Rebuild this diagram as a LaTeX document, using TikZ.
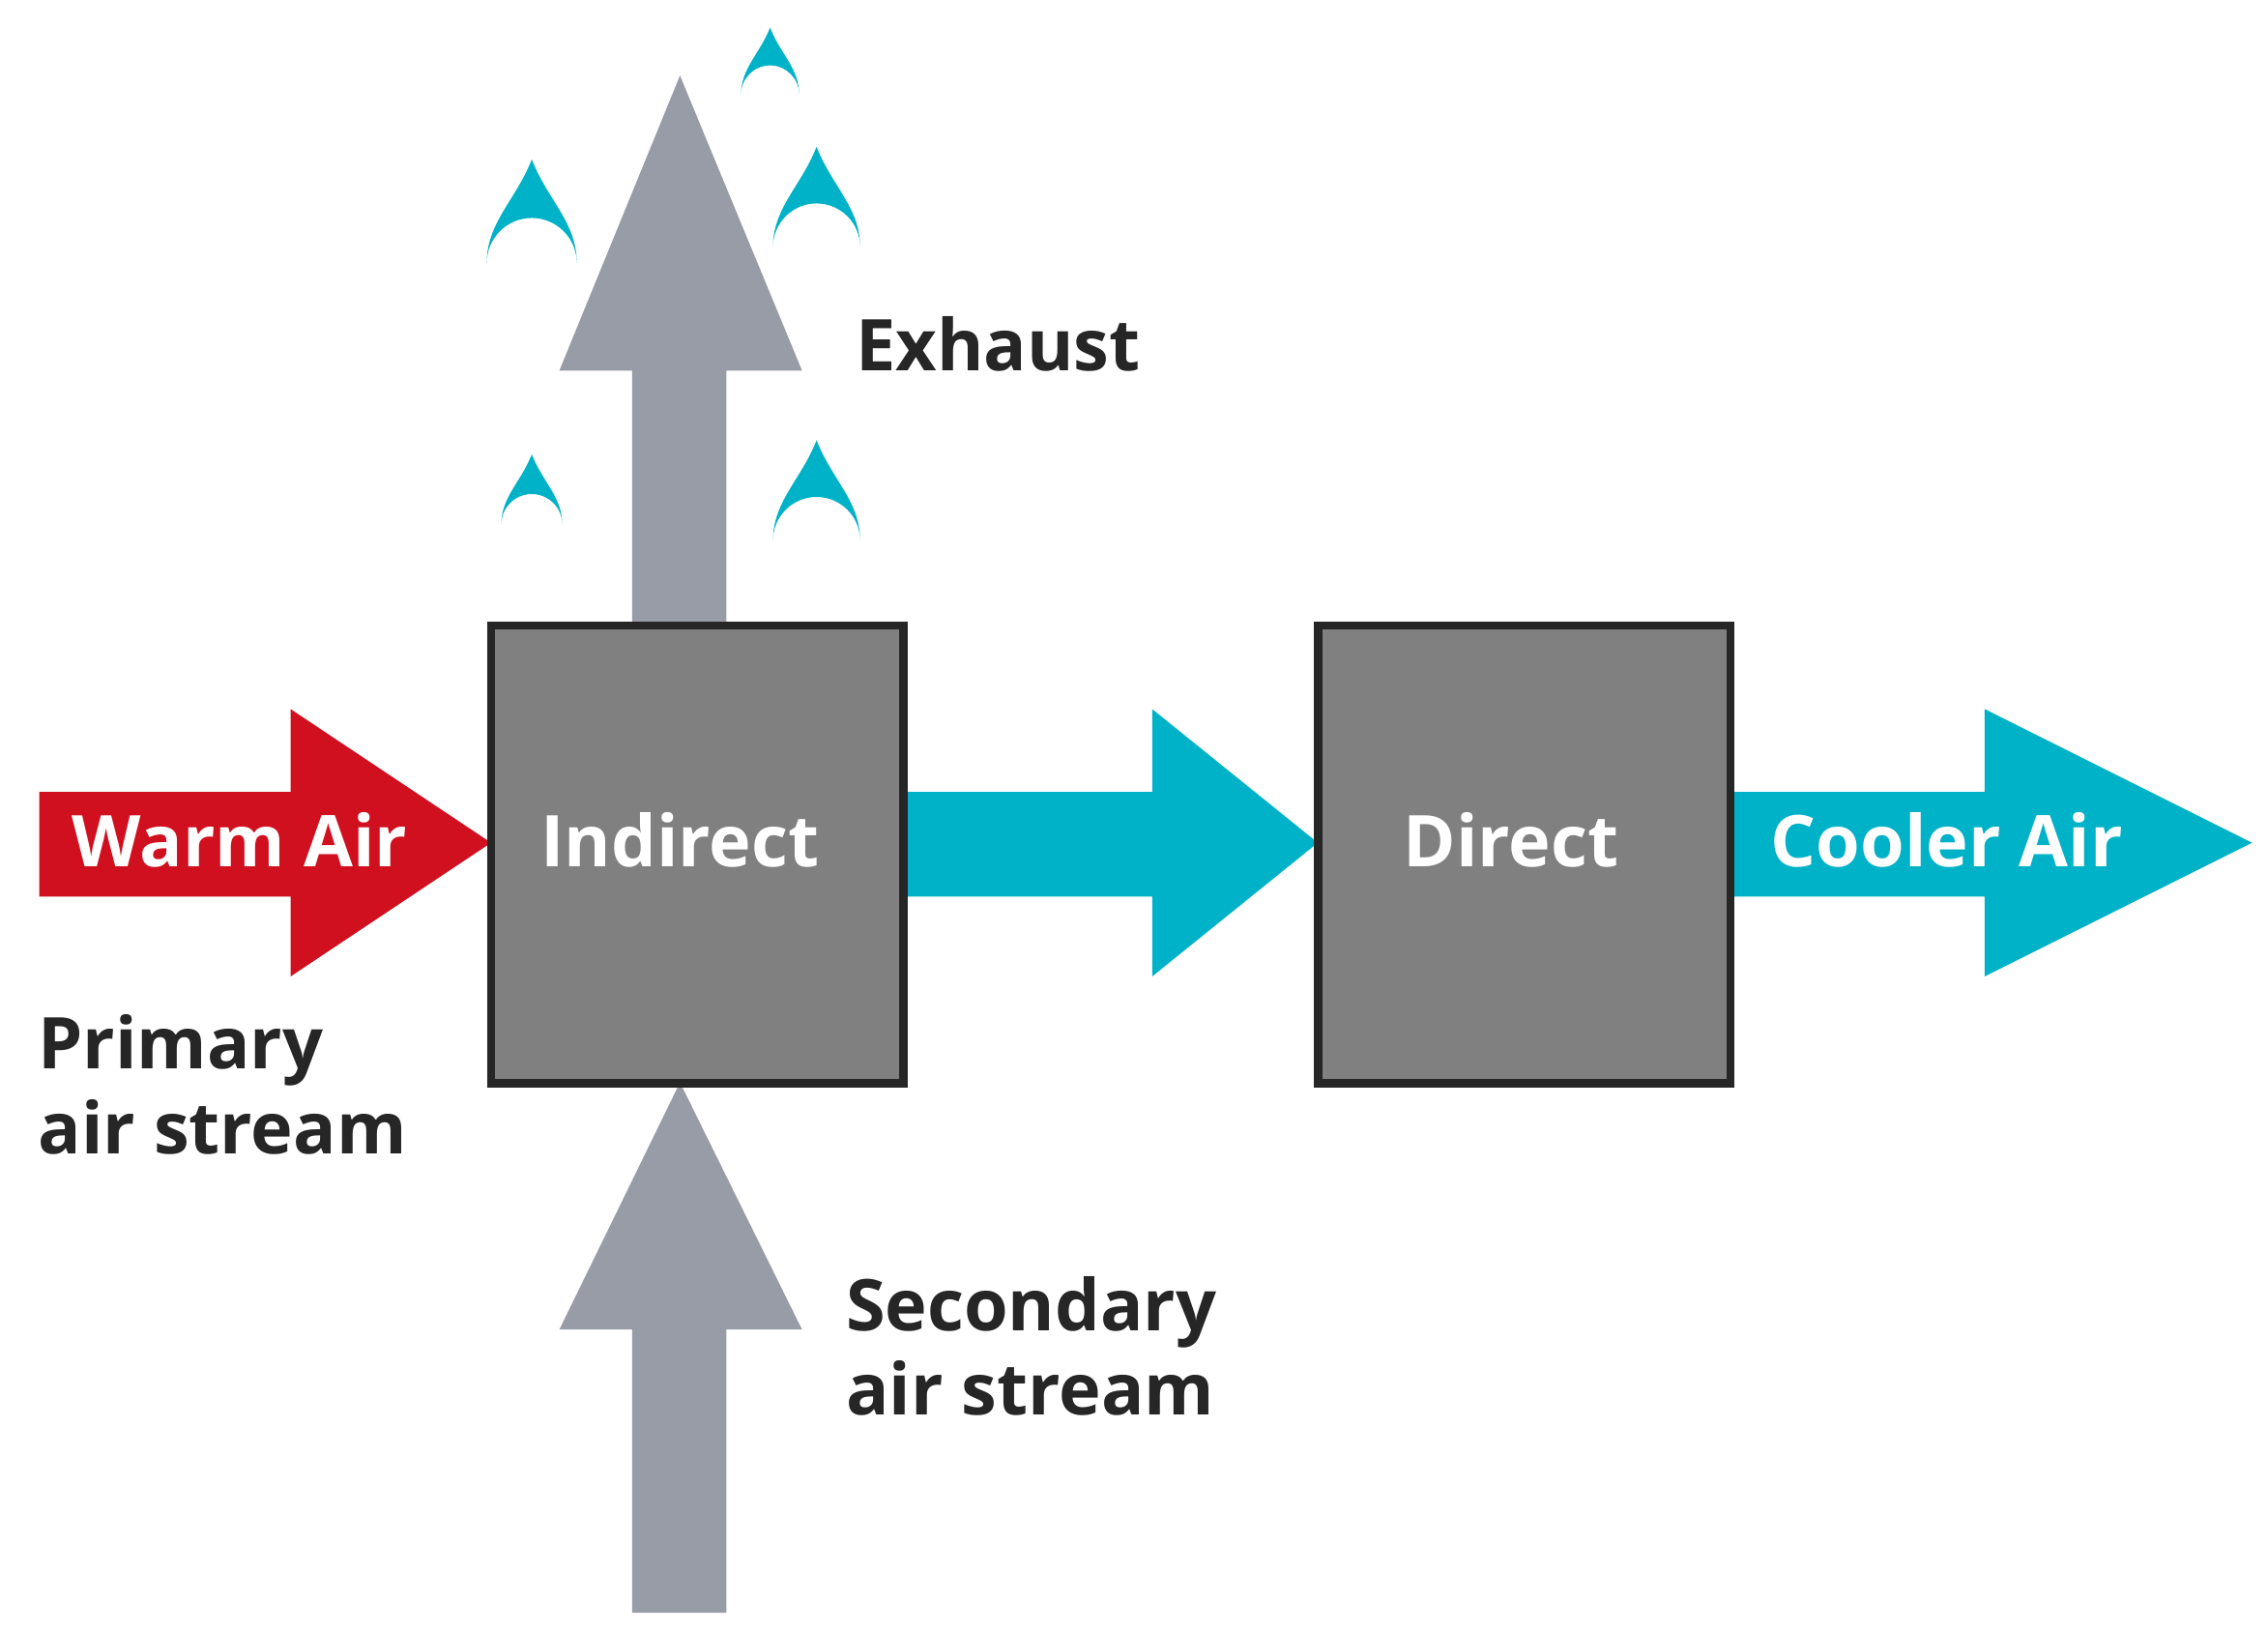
\documentclass[tikz,border=0pt]{standalone}
\usepackage{fontspec}
\setmainfont{Open Sans}
\usetikzlibrary{positioning}
\definecolor{warmred}{HTML}{D0101E}
\definecolor{coolteal}{HTML}{00B2C7}
\definecolor{airgray}{HTML}{979CA6}
\definecolor{boxgray}{HTML}{7F807F}
\tikzset{
    unit/.style={draw=black!85, line width=2.5pt, fill=boxgray, minimum width=284*0.1503mm, minimum height=315*0.1503mm, inner sep=0pt},
    inner label/.style={text=white, font=\fontsize{21}{25}\selectfont\bfseries},
    outer label/.style={text=black!85, font=\fontsize{21}{25}\selectfont\bfseries, align=left},
    pics/drop/.style={code={
        \fill[coolteal] (0,-2.3*#1) .. controls (0.35*#1,-1.4*#1) and (#1,-0.9*#1) .. (#1,0)
            arc (0:-180:#1) .. controls (-#1,-0.9*#1) and (-0.35*#1,-1.4*#1) .. cycle;
    }}
}
\begin{document}
\begin{tikzpicture}[x=0.1503mm, y=-0.1503mm]
    \useasboundingbox (0,0) rectangle (1561,1122);
    % air streams
    \fill[airgray] (435,430) -- (435,255) -- (385,255) -- (468,52) -- (552,255) -- (500,255) -- (500,430) -- cycle;
    \fill[airgray] (435,1110) -- (435,915) -- (385,915) -- (468,745) -- (552,915) -- (500,915) -- (500,1110) -- cycle;
    \fill[warmred] (27,545) -- (200,545) -- (200,488) -- (338,580) -- (200,672) -- (200,617) -- (27,617) -- cycle;
    \fill[coolteal] (622,545) -- (793,545) -- (793,488) -- (907,580) -- (793,672) -- (793,617) -- (622,617) -- cycle;
    \fill[coolteal] (1191,545) -- (1366,545) -- (1366,488) -- (1550,580) -- (1366,672) -- (1366,617) -- (1191,617) -- cycle;
    % water drops
    \pic at (530,65) {drop=20};
    \pic at (366,181) {drop=31};
    \pic at (562,170) {drop=30};
    \pic at (366,361) {drop=21};
    \pic at (562,372) {drop=30};
    % units
    \node[unit] (indirect) at (480,588) {};
    \node[unit] (direct) at (1049,588) {};
    \node[inner label] (indirectlabel) at (468,578) {Indirect};
    \node[inner label] (directlabel) at (1040,578) {Direct};
    \node[inner label] (warm) at (165,578) {Warm Air};
    \node[inner label] (cooler) at (1340,578) {Cooler Air};
    \node[outer label] (exhaust) at (687,237) {Exhaust};
    \node[outer label, anchor=north west] (primary) at (18,690) {Primary\\air stream};
    \node[outer label, anchor=north west] (secondary) at (574,870) {Secondary\\air stream};
\end{tikzpicture}
\end{document}
